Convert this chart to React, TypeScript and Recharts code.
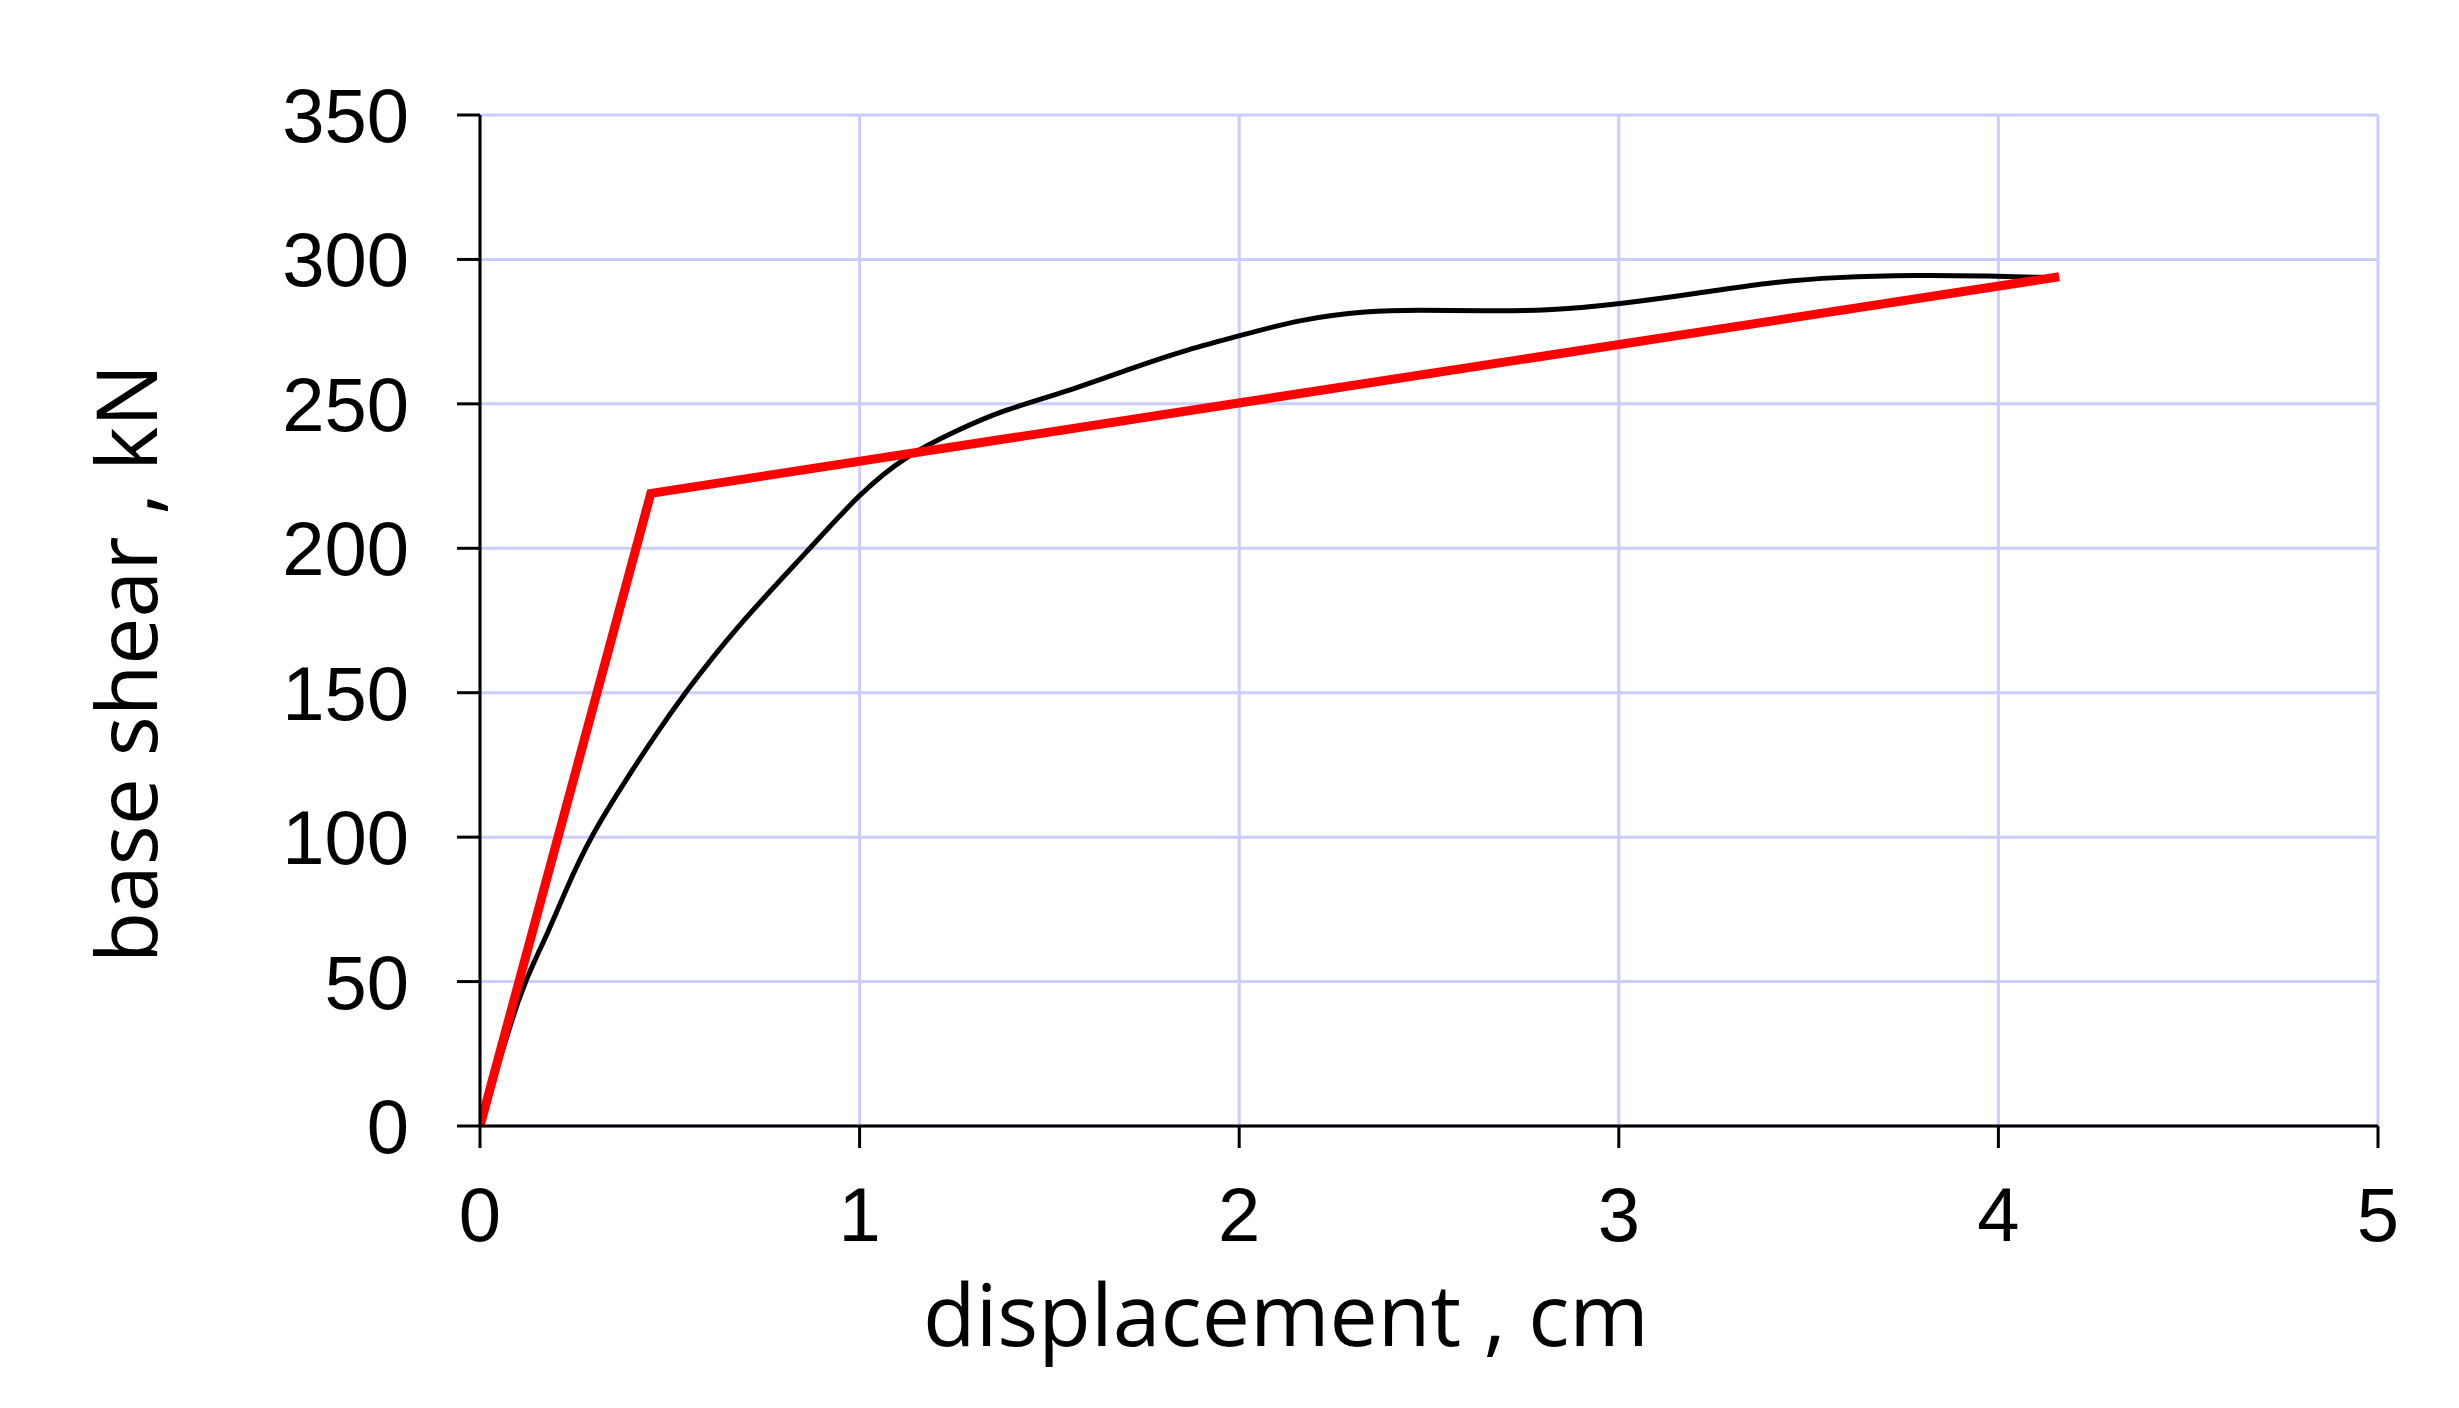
import { LineChart, Line, XAxis, YAxis, CartesianGrid, Label } from 'recharts';

// pushover curve (displacement cm, base shear kN)
const curveDisp = [0, 0.11, 0.16, 0.23, 0.29, 0.39, 0.46, 0.54, 0.67, 0.87, 1.0, 1.12, 1.26, 1.37, 1.55, 1.72, 1.85, 2.0, 2.16, 2.34, 2.47, 2.64, 2.81, 3.0, 3.21, 3.39, 3.57, 3.79, 3.96, 4.14];
const curveShear = [0, 49, 61, 83, 100, 121, 135, 150, 172, 200, 219, 232, 241, 247.5, 254.4, 262.5, 268.3, 273.5, 279.3, 282.2, 282.5, 282.2, 282.2, 284.5, 288.3, 292, 293.9, 294.6, 294.3, 293.7];

// bilinear idealisation
const bilinDisp = [0, 0.45, 4.16];
const bilinShear = [0, 219, 294];

const xTicks = [0, 1, 2, 3, 4, 5];
const yTicks = [0, 50, 100, 150, 200, 250, 300, 350];

const curveData = curveDisp.map((x, i) => ({ x, y: curveShear[i] }));
const bilinData = bilinDisp.map((x, i) => ({ x, y: bilinShear[i] }));

const tickStyle = { fontFamily: 'Liberation Sans, Arial, sans-serif', fontSize: 76, fill: '#000' };
const labelFont = 'Open Sans, sans-serif';

const XTitle = (props: any) => {
  const { x, y, width, height } = props.viewBox;
  return (
    <text x={x + width / 2 - 143} y={y + height - 62} textAnchor="middle" fontFamily={labelFont} fontSize={86} fill="#000">
      displacement , cm
    </text>
  );
};

const YTitle = (props: any) => {
  const { x, y, height } = props.viewBox;
  const cx = x + 157;
  const cy = y + height / 2 + 43;
  return (
    <text x={cx} y={cy} transform={`rotate(-90, ${cx}, ${cy})`} textAnchor="middle" fontFamily={labelFont} fontSize={84} fill="#000">
      base shear , kN
    </text>
  );
};

export default function App() {
  return (
    <div style={{ position: 'absolute', left: 0, top: 0, background: '#fff' }}>
      <LineChart width={2459} height={1408} margin={{ top: 115, right: 81, left: 0, bottom: 0 }}>
        <CartesianGrid stroke="#CCCCFF" strokeWidth={3} horizontalValues={yTicks} verticalValues={xTicks} />
        <XAxis
          type="number"
          dataKey="x"
          domain={[0, 5]}
          ticks={xTicks}
          height={282}
          tick={tickStyle}
          tickSize={22}
          tickMargin={39}
          axisLine={{ stroke: '#000', strokeWidth: 3 }}
          tickLine={{ stroke: '#000', strokeWidth: 3 }}
          allowDataOverflow
        >
          <Label content={XTitle} />
        </XAxis>
        <YAxis
          type="number"
          dataKey="y"
          domain={[0, 350]}
          ticks={yTicks}
          width={480}
          tick={tickStyle}
          tickSize={23}
          tickMargin={48}
          axisLine={{ stroke: '#000', strokeWidth: 3 }}
          tickLine={{ stroke: '#000', strokeWidth: 3 }}
          allowDataOverflow
        >
          <Label content={YTitle} />
        </YAxis>
        <Line
          data={curveData}
          dataKey="y"
          type="basis"
          stroke="#000"
          strokeWidth={5}
          dot={false}
          activeDot={false}
          isAnimationActive={false}
        />
        <Line
          data={bilinData}
          dataKey="y"
          type="linear"
          stroke="#FF0000"
          strokeWidth={9}
          dot={false}
          activeDot={false}
          isAnimationActive={false}
        />
      </LineChart>
    </div>
  );
}
